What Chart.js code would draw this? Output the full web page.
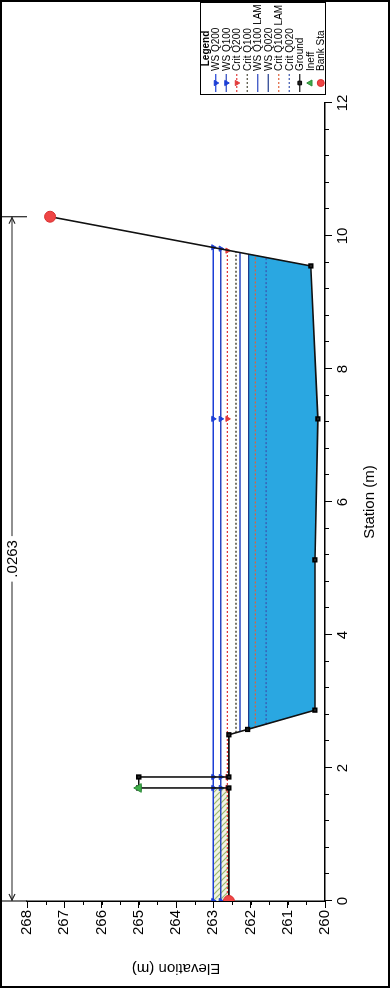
<!DOCTYPE html>
<html><head><meta charset="utf-8">
<script src="https://cdn.jsdelivr.net/npm/chart.js@4.4.0/dist/chart.umd.min.js"></script>
<style>
html,body{margin:0;padding:0;background:#fff;overflow:hidden;width:390px;height:988px;}
#wrap{position:absolute;left:0;top:0;width:988px;height:390px;transform-origin:0 0;transform:translate(0px,988px) rotate(-90deg);}
canvas{display:block}
</style></head><body>
<div id="wrap"><canvas id="c" width="988" height="390"></canvas></div>
<script>
// ---------- data ----------
const stationTickLabels = ['0','2','4','6','8','10','12'];
const elevTickLabels = ['260','261','262','263','264','265','266','267','268'];

const groundSta  = [0, 1.70, 1.70, 1.865, 1.865, 2.50, 2.58, 2.87, 5.13, 7.25, 9.55, 10.29];
const groundElev = [262.58, 262.58, 265.00, 265.00, 262.58, 262.58, 262.08, 260.27, 260.27, 260.19, 260.38, 267.38];

const profileNames = ['WS Q200','WS Q100','Crit Q200','Crit Q100','WS Q100 LAM','WS Q020','Crit Q100 LAM','Crit Q020'];
const profileElev  = [263.00, 262.80, 262.62, 262.39, 262.28, 262.05, 261.87, 261.58];
const profileStart = [0, 0, 0, 2.53, 2.55, 2.58, 2.61, 2.66];
const profileEnd   = [9.83, 9.81, 9.78, 9.76, 9.75, 9.73, 9.71, 9.68];
const markerSta    = [1.70, 1.865, 7.25];

const waterSta  = [2.58, 9.73, 9.55, 7.25, 5.13, 2.87, 2.58];
const waterElev = [262.05, 262.05, 260.38, 260.19, 260.27, 260.27, 262.05];

const ineffAreaSta  = [0, 1.70, 1.70, 0, 0];
const ineffAreaElev = [262.58, 262.58, 263.00, 263.00, 262.58];
const ineffMarkSta  = [1.70];
const ineffMarkElev = [265.00];

const bankSta  = [0, 10.29];
const bankElev = [262.58, 267.38];

const manningLabel = ['.0263'];
const manningRange = [0, 10.29];

// ---------- styles ----------
const FONT = '"Liberation Sans", Arial, sans-serif';
const profStyle = [
  {color:'#1c3fd6', dash:[],    marker:'triangle', mcolor:'#1c3fd6'},
  {color:'#2a46c0', dash:[],    marker:'triangle', mcolor:'#1c3fd6'},
  {color:'#e23a3a', dash:[2,2], marker:'triangle', mcolor:'#e23a3a'},
  {color:'#4b4a3a', dash:[2,2], marker:false},
  {color:'#2a46c0', dash:[],    marker:false},
  {color:'#1f3a8c', dash:[],    marker:false},
  {color:'#e0603a', dash:[2,2], marker:false},
  {color:'#3a56b0', dash:[2,2], marker:false}
];

function hatchPattern(){
  const c = document.createElement('canvas'); c.width = 6; c.height = 6;
  const g = c.getContext('2d');
  g.fillStyle = '#f1f4e4'; g.fillRect(0,0,6,6);
  g.strokeStyle = '#9db86e'; g.lineWidth = 1.2;
  g.beginPath(); g.moveTo(-1,-1); g.lineTo(7,7); g.moveTo(-1,5); g.lineTo(1,7); g.moveTo(5,-1); g.lineTo(7,1); g.stroke();
  return g.createPattern(c,'repeat');
}
const ctx0 = document.getElementById('c').getContext('2d');

const datasets = [];
profileNames.forEach((name,i)=>{
  const st = profStyle[i];
  const xs = [profileStart[i]];
  markerSta.forEach(s=>{ if (s>profileStart[i] && s<profileEnd[i]) xs.push(s); });
  xs.push(profileEnd[i]);
  datasets.push({
    label:name, legend:true,
    data: xs.map(s=>({x:s, y:profileElev[i]})),
    borderColor: st.color, borderWidth:1.4, borderDash: st.dash,
    pointStyle: st.marker || 'circle', pointRadius: st.marker ? 3 : 0,
    pointRotation: 180,
    pointBackgroundColor: st.mcolor || st.color, pointBorderColor: st.mcolor || st.color, pointBorderWidth:1,
    fill:false, order: 2 + i
  });
});
datasets.push({label:'Ground', legend:true, data: groundSta.map((s,i)=>({x:s,y:groundElev[i]})),
  borderColor:'#111', borderWidth:1.6, pointStyle:'rect', pointRadius:2.6,
  pointBackgroundColor:'#222', pointBorderColor:'#000', fill:false, order:1});
datasets.push({label:'Ineff', legend:true, data: ineffMarkSta.map((s,i)=>({x:s,y:ineffMarkElev[i]})),
  showLine:false, pointStyle:'triangle', pointRadius:5, pointBackgroundColor:'#3fae49', pointBorderColor:'#2e8b3a',
  borderColor:'#3fae49', order:0});
datasets.push({label:'Bank Sta', legend:true, data: bankSta.map((s,i)=>({x:s,y:bankElev[i]})),
  showLine:false, pointStyle:'circle', pointRadius:5.5, pointBackgroundColor:'#ef4545', pointBorderColor:'#d83030',
  borderColor:'#ef4545', order:0});
datasets.push({label:'water', legend:false, data: waterSta.map((s,i)=>({x:s,y:waterElev[i]})),
  borderWidth:0, pointRadius:0, backgroundColor:'#2aa7e1', fill:'shape', order:20});
datasets.push({label:'ineffArea', legend:false, data: ineffAreaSta.map((s,i)=>({x:s,y:ineffAreaElev[i]})),
  borderWidth:0, pointRadius:0, backgroundColor: hatchPattern(), fill:'shape', order:19});

// ---------- plugins ----------
const extras = {
  id:'extras',
  afterDraw(chart){
    const c = chart.ctx, xs = chart.scales.x, ys = chart.scales.y, a = chart.chartArea;
    c.save();
    // minor ticks
    c.strokeStyle = '#000'; c.lineWidth = 1;
    for (let k=0;k<=30;k++){ const v = k*0.4; const p = Math.round(xs.getPixelForValue(v))+0.5;
      c.beginPath(); c.moveTo(p, a.bottom); c.lineTo(p, a.bottom+4); c.stroke(); }
    for (let k=0;k<=16;k++){ const v = 260 + k*0.5; const p = Math.round(ys.getPixelForValue(v))+0.5;
      c.beginPath(); c.moveTo(a.left, p); c.lineTo(a.left-4, p); c.stroke(); }
    // Manning's n line
    const u0 = xs.getPixelForValue(manningRange[0]), u1 = xs.getPixelForValue(manningRange[1]);
    const v = 12;
    c.strokeStyle = '#222'; c.lineWidth = 1.2;
    c.font = '15px ' + FONT; c.fillStyle = '#000'; c.textAlign = 'center'; c.textBaseline = 'middle';
    const mid = (u0+u1)/2, tw = c.measureText(manningLabel[0]).width/2 + 4;
    c.beginPath(); c.moveTo(u0, v); c.lineTo(mid - tw, v); c.moveTo(mid + tw, v); c.lineTo(u1, v); c.stroke();
    c.beginPath(); c.moveTo(u0, 0); c.lineTo(u0, a.top); c.moveTo(u1, 0); c.lineTo(u1, a.top); c.stroke();
    c.beginPath(); c.moveTo(u0+7, v-3); c.lineTo(u0+1, v); c.lineTo(u0+7, v+3);
    c.moveTo(u1-7, v-3); c.lineTo(u1-1, v); c.lineTo(u1-7, v+3); c.stroke();
    c.fillText(manningLabel[0], mid, v+1);
    // legend
    const items = chart.data.datasets.filter(d=>d.legend);
    const L = {u0: 893, u1: 986, v0: 200, v1: 326};
    const rowH = (L.v1 - L.v0)/(items.length+1);
    c.fillStyle = '#fff'; c.fillRect(L.u0, L.v0, L.u1-L.u0, L.v1-L.v0);
    c.strokeStyle = '#000'; c.lineWidth = 1; c.setLineDash([]);
    c.strokeRect(L.u0+0.5, L.v0+0.5, L.u1-L.u0-1, L.v1-L.v0-1);
    c.fillStyle = '#000'; c.textAlign = 'center'; c.font = 'bold 10px ' + FONT;
    c.fillText('Legend', (L.u0+L.u1)/2, L.v0 + rowH/2 + 0.5);
    c.textAlign = 'left'; c.font = '10px ' + FONT;
    items.forEach((d,i)=>{
      const yy = L.v0 + rowH*(i+1) + rowH/2;
      if (d.showLine !== false){
        c.strokeStyle = d.borderColor; c.lineWidth = 1.2; c.setLineDash(d.borderDash || []);
        c.beginPath(); c.moveTo(L.u0+3, yy); c.lineTo(L.u0+21, yy); c.stroke(); c.setLineDash([]);
      }
      if (d.pointRadius > 0){
        c.fillStyle = d.pointBackgroundColor; c.strokeStyle = d.pointBorderColor; c.lineWidth = 1;
        Chart.helpers.drawPoint(c, {pointStyle:d.pointStyle, rotation: d.pointStyle==='triangle' && d.label!=='Ineff' ? 180 : 0,
          radius: Math.min(d.pointRadius, 3.5), borderWidth:1}, L.u0+12, yy);
      }
      c.fillStyle = '#000';
      c.fillText(d.label, L.u0+24, yy + 0.5);
    });
    // outer frame
    c.strokeStyle = '#000'; c.lineWidth = 2;
    c.strokeRect(1, 1, chart.width-2, chart.height-2);
    c.restore();
  }
};

new Chart(ctx0, {
  type:'line',
  data:{datasets},
  options:{
    responsive:false, devicePixelRatio:1, animation:false,
    layout:{padding:{top:27, right:103, left:0, bottom:0}},
    plugins:{legend:{display:false}, tooltip:{enabled:false}},
    elements:{line:{tension:0}},
    scales:{
      x:{type:'linear', position:'bottom', min:0, max:12,
        afterFit(s){ s.height = 65; },
        afterBuildTicks(s){ s.ticks = stationTickLabels.map(t=>({value:Number(t)})); },
        ticks:{color:'#000', font:{family:FONT, size:15}, padding:2, maxRotation:0,
          callback:(v)=>stationTickLabels.find(t=>Number(t)===v) || ''},
        grid:{display:true, drawOnChartArea:false, drawTicks:true, tickLength:7, color:'#000', lineWidth:1},
        border:{display:true, color:'#000', width:1.5},
        title:{display:true, text:'Station (m)', color:'#000', font:{family:FONT, size:15}, padding:{top:0, bottom:11}}
      },
      y:{type:'linear', position:'left', min:260, max:268,
        afterFit(s){ s.width = 87; },
        afterBuildTicks(s){ s.ticks = elevTickLabels.map(t=>({value:Number(t)})); },
        ticks:{color:'#000', font:{family:FONT, size:15}, padding:2,
          callback:(v)=>elevTickLabels.find(t=>Number(t)===v) || ''},
        grid:{display:true, drawOnChartArea:false, drawTicks:true, tickLength:7, color:'#000', lineWidth:1},
        border:{display:true, color:'#000', width:1.5},
        title:{display:true, text:'Elevation (m)', color:'#000', font:{family:FONT, size:15}, padding:{top:11, bottom:0}}
      }
    }
  },
  plugins:[extras]
});
</script></body></html>
